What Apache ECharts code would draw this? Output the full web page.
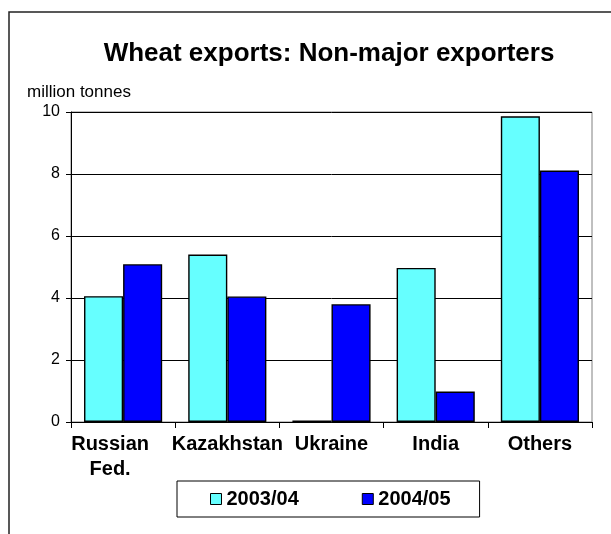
<!DOCTYPE html>
<html>
<head>
<meta charset="utf-8">
<script src="https://cdn.jsdelivr.net/npm/echarts@6/dist/echarts.min.js"></script>
<style>
  html, body { margin: 0; padding: 0; background: #fff; }
  #chart { width: 611px; height: 534px; }
</style>
</head>
<body>
<div id="chart"></div>
<script>
// values (million tonnes)
const categories = ['Russian\nFed.', 'Kazakhstan', 'Ukraine', 'India', 'Others']
const seriesNames = ['2003/04', '2004/05']
const exports0304 = [4.06, 5.40, 0.05, 4.97, 9.86]
const exports0405 = [5.09, 4.05, 3.80, 0.98, 8.11]
const yTicks = [0, 2, 4, 6, 8, 10]

const chart = echarts.init(document.getElementById('chart'), null, { renderer: 'canvas' })
const FONT = 'Liberation Sans, Arial, sans-serif'

const barStyle = (color) => ({ color: color, borderColor: '#000', borderWidth: 1.4 })

const option = {
  animation: false,
  backgroundColor: '#fff',
  graphic: [
    {
      type: 'rect',
      shape: { x: 9, y: 12, width: 700, height: 600 },
      style: { fill: 'none', stroke: '#222', lineWidth: 1.5 },
      silent: true
    },
    {
      type: 'text',
      x: 329, y: 54,
      style: {
        text: 'Wheat exports: Non-major exporters',
        font: 'bold 26px ' + FONT,
        fill: '#000',
        textAlign: 'center',
        textVerticalAlign: 'middle'
      }
    },
    {
      type: 'text',
      x: 27, y: 92,
      style: {
        text: 'million tonnes',
        font: '17px ' + FONT,
        fill: '#000',
        textAlign: 'left',
        textVerticalAlign: 'middle'
      }
    }
  ],
  grid: {
    left: 71, right: 19, top: 112, bottom: 112,
    show: true,
    borderColor: '#808080',
    borderWidth: 1
  },
  legend: {
    data: seriesNames,
    left: 177,
    top: 481,
    itemWidth: 11,
    itemHeight: 11,
    itemGap: 63,
    icon: 'rect',
    padding: [8, 29, 8, 33],
    borderColor: '#000',
    borderWidth: 1,
    itemStyle: { borderColor: '#000', borderWidth: 1 },
    textStyle: { fontFamily: FONT, fontSize: 20, fontWeight: 'bold', color: '#000', lineHeight: 20 }
  },
  xAxis: {
    type: 'category',
    data: categories.map((c, i) => i === 0
      ? { value: c, textStyle: { padding: [0, 26, 0, 0] } }
      : c),
    axisLine: { lineStyle: { color: '#000', width: 1 } },
    axisTick: { show: true, length: 6, lineStyle: { color: '#000' } },
    axisLabel: {
      margin: 10,
      interval: 0,
      fontFamily: FONT,
      fontSize: 20,
      fontWeight: 'bold',
      lineHeight: 25,
      color: '#000'
    },
    splitLine: { show: false }
  },
  yAxis: {
    type: 'value',
    min: yTicks[0],
    max: yTicks[yTicks.length - 1],
    interval: 2,
    axisLine: { show: true, lineStyle: { color: '#000', width: 1 } },
    axisTick: { show: true, length: 5, lineStyle: { color: '#000' } },
    axisLabel: { margin: 11, fontFamily: FONT, fontSize: 16, color: '#000' },
    splitLine: { show: true, lineStyle: { color: '#000', width: 1 } }
  },
  series: [
    {
      name: seriesNames[0],
      type: 'bar',
      data: exports0304,
      barGap: '0%',
      barCategoryGap: '25%',
      itemStyle: barStyle('#66FFFF')
    },
    {
      name: seriesNames[1],
      type: 'bar',
      data: exports0405,
      barGap: '0%',
      barCategoryGap: '25%',
      itemStyle: barStyle('#0000FF')
    }
  ]
}

chart.setOption(option)
</script>
</body>
</html>
